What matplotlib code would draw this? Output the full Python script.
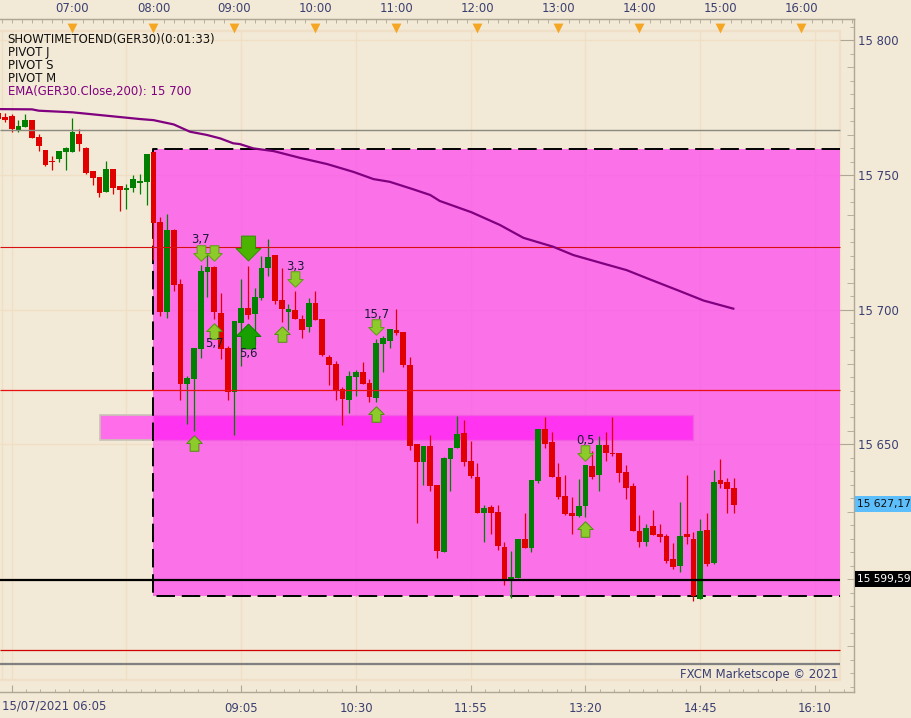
import numpy as np
import matplotlib
matplotlib.use("Agg")
import matplotlib.pyplot as plt
from matplotlib.path import Path
from matplotlib.patches import Rectangle

BASE = 15000
direction = ("RRRGGRRRRGGGRRRRGRRGGGGRRGRRGGGGRRRGGRGGGRRGRRGRRRRRGGRRGGGRRRRGRRGGGRRRGRRRGGRGG"
             "RRRRRGGRGRRRRRRGRRRRGRRGRGRRR")
high = [773.2,773.2,772.7,770.5,772.7,770.5,765.3,759.3,757.1,758.9,760.3,771.2,767.1,760.4,751.5,749.3,755.2,752.3,745.9,746.7,750.0,750.4,757.8,758.6,
        734.4,735.5,730.0,711.4,675.4,685.8,716.6,720.9,716.2,706.2,686.5,695.8,711.4,716.2,708.0,719.9,726.2,720.3,715.5,702.1,706.9,698.0,704.3,706.9,696.5,683.2,680.9,671.3,677.2,677.6,680.6,674.2,689.1,690.2,692.8,700.2,691.7,682.4,
        650.2,649.4,653.5,634.9,645.3,648.7,660.6,659.1,651.3,643.1,627.5,627.5,627.5,613.8,610.4,614.9,624.5,636.8,655.7,660.2,654.6,643.1,638.6,630.5,637.2,642.4,647.6,653.1,
        654.6,660.2,646.8,642.4,635.7,623.8,620.4,625.6,620.4,616.7,613.4,628.6,638.6,617.5,622.3,624.5,640.5,644.6,637.5,637.5]
body_top = [773.2,771.4,771.9,768.2,770.5,770.5,764.1,759.3,755.1,758.9,760.1,766.0,765.3,760.1,751.5,749.3,752.3,752.3,745.9,745.2,748.5,747.8,757.8,758.6,
        732.6,729.6,729.6,709.5,674.6,685.8,714.4,715.8,715.8,698.8,685.8,695.8,700.6,700.6,704.7,715.5,719.6,720.3,703.6,700.2,699.9,696.5,702.5,702.5,696.5,682.4,679.8,670.5,675.4,676.9,676.9,672.8,687.6,689.5,692.8,692.4,691.7,679.4,
        650.2,649.4,649.4,634.9,644.9,648.7,653.9,654.2,643.8,637.9,626.4,626.8,624.9,611.9,600.8,614.9,614.9,636.8,655.7,655.7,650.9,637.9,630.8,624.5,627.1,642.4,642.0,649.8,
        649.8,646.8,646.8,639.8,634.6,617.8,618.9,619.7,616.7,616.0,607.4,616.0,616.7,614.9,617.8,618.2,636.0,636.8,636.0,633.8]
body_bottom = [771.0,770.5,767.2,766.7,768.0,763.8,760.8,753.7,754.7,756.0,758.6,758.6,761.5,750.8,748.9,743.3,743.7,745.2,744.5,744.5,745.2,747.1,747.4,732.2,
        699.1,699.1,709.2,672.4,672.4,674.2,685.4,714.0,699.1,685.4,669.4,669.4,695.0,698.0,698.4,704.3,715.5,703.2,700.2,699.1,696.5,692.4,693.6,696.2,683.2,679.4,669.8,666.8,666.4,675.0,672.4,667.6,667.2,687.2,688.4,691.3,679.4,649.4,
        643.5,643.5,634.6,610.4,610.0,644.6,648.7,643.5,638.3,624.5,624.5,624.5,612.3,599.3,599.3,600.4,611.5,611.5,636.4,650.2,637.9,630.5,624.2,623.4,623.4,627.1,637.9,638.6,
        646.8,646.4,639.4,633.8,617.8,613.8,613.8,616.4,615.6,606.7,604.5,604.8,615.6,593.7,592.6,605.6,606.0,635.3,633.4,627.5]
low = [770.5,769.8,766.1,766.1,767.7,763.8,758.9,753.4,751.9,754.9,751.9,758.6,758.9,750.4,746.3,741.9,743.7,743.0,736.7,737.4,743.7,743.0,738.9,718.5,
        697.6,696.9,706.9,666.4,657.5,654.9,682.0,704.7,696.5,681.7,666.4,653.4,679.1,696.5,686.9,703.6,712.5,702.1,695.4,692.4,696.5,689.5,691.7,696.2,682.8,672.0,666.4,657.2,661.6,667.9,672.4,665.7,665.7,676.9,685.8,690.6,678.7,647.9,
        620.8,634.9,632.7,607.8,610.0,632.7,648.7,642.0,637.5,624.5,613.8,616.7,610.8,597.8,593.0,600.4,611.5,610.0,635.7,648.7,637.9,629.7,623.8,616.7,623.0,623.0,637.2,632.7,
        643.8,645.7,636.0,629.7,617.8,611.9,612.3,616.4,613.8,606.0,603.7,602.6,613.0,591.8,592.6,604.8,605.6,633.8,624.5,624.5]

ema_bar = [0,5,6,11,15,19,21,23,26,28.4,30.9,32.9,34.8,35.8,37.8,40.8,44.7,48.7,52.6,55.6,58,61.5,64,65.4,70.1,74.3,77.8,82.2,85.2,88.7,93.1,96.1,101,104.5,108.9]
ema_val = [15774.5,15774.4,15773.9,15773.3,15772.3,15771.3,15770.8,15770.4,15768.8,15766.1,15764.9,15763.6,15761.8,15761.5,15759.9,15758.9,15756.4,15754.1,
           15751.2,15748.5,15747.5,15744.7,15742.6,15740.4,15736.2,15731.5,15726.7,15723.4,15720.3,15717.8,15714.7,15711.7,15706.9,15703.4,15700.4]

down_small = [(30,15721.1),(32,15721.1),(44,15711.4),(56,15693.6),(87,15646.8)]
up_small = [(32,15692.1),(42,15691.0),(56,15661.3),(29,15650.5),(87,15618.6)]
down_big = [(37,15722.9)]
up_big = [(37,15690.2)]
notes = [("3,7",30,15726.0),("5,7",32,15687.3),("3,3",44,15716.2),("5,6",37,15683.6),("15,7",56,15698.4),("0,5",87,15651.3)]

hour_labels = ["07:00","08:00","09:00","10:00","11:00","12:00","13:00","14:00","15:00","16:00"]
hour_bars = [11,23,35,47,59,71,83,95,107,119]
date_labels = ["15/07/2021 06:05","09:05","10:30","11:55","13:20","14:45","16:10"]
date_bars = [2,36,53,70,87,104,121]
price_ticks = [15650,15700,15750,15800]
price_labels = ["15 650","15 700","15 750","15 800"]
legend_lines = ["SHOWTIMETOEND(GER30)(0:01:33)","PIVOT J","PIVOT S","PIVOT M"]
ema_legend = "EMA(GER30.Close,200): 15 700"

BG = "#F2E9D6"; GRID = "#F0DFC4"; AXC = "#ADA793"; NAVY = "#3A3F72"
PINK = "#FB72E8"; MAG = "#FF33F0"; RED = "#E00000"; GREEN = "#008000"

plt.rcParams["font.family"] = "DejaVu Sans"
FS = 8.35
fig = plt.figure(figsize=(9.12, 7.18), dpi=100, facecolor=BG)
ax = fig.add_axes([0, 26/718, 854/912, 673/718], facecolor=BG)
x0, x1 = 0.26, 126.78
ax.set_xlim(x0, x1)
ax.set_ylim(15558.06, 15807.95)
PR = 124.7      # right edge of inner panel
PT = 15803.5; PB = 15562.5

# grid
ax.vlines(date_bars + [0.55, 19], PB, PT, color=GRID, lw=1, zorder=1)
ax.hlines([15650, 15700, 15750, 15800], x0, PR, color=GRID, lw=1, zorder=1)
ax.plot([x0, PR, PR, x0], [PT, PT, PB, PB], color="#EEDFC6", lw=1.6, zorder=1)

# zones
ax.add_patch(Rectangle((15.07, 15651.6), 87.8, 9.3, fc="#FF6DEA", ec="#C9C3B5", lw=1.2, zorder=2))
ax.add_patch(Rectangle((23, 15593.7), PR-23, 166.0, fc=PINK, ec="none", zorder=3))
ax.add_patch(Rectangle((23, 15651.6), 79.87, 9.3, fc=MAG, ec="#F25CE2", lw=1, zorder=3.1))
ax.vlines(date_bars[1:], 15593.7, 15759.7, color="#F96DE5", lw=1, zorder=3.05)
ax.hlines([15650, 15700, 15750], 23, PR, color="#F96DE5", lw=1, zorder=3.05)
dash = dict(color="black", lw=1.4, ls=(0, (9.5, 3.5)), zorder=3.5)
ax.plot([PR, 23, 23, PR], [15759.7, 15759.7, 15593.7, 15593.7], **dash)

# candles
xs = np.arange(len(high))
h = np.array(high)+BASE; t = np.array(body_top)+BASE; b = np.array(body_bottom)+BASE; l = np.array(low)+BASE
cols = [GREEN if c == "G" else RED for c in direction]
ax.vlines(xs, l, h, colors=cols, lw=0.9, zorder=4)
ax.bar(xs, t-b, bottom=b, width=0.88, color=cols, lw=0, zorder=4.1)

# horizontal levels
ax.hlines(15766.7, x0, PR, color="#8A8A80", lw=1.0, zorder=5)
ax.hlines(15723.3, x0, PR, color="#D81010", lw=0.8, zorder=5)
ax.hlines(15670.2, x0, PR, color="#E81010", lw=0.9, zorder=5)
ax.hlines(15573.6, x0, PR, color="#D00000", lw=0.9, zorder=5)
ax.hlines(15568.5, x0, PR, color="#808080", lw=1.6, zorder=5)
ax.hlines(15599.6, x0, PR, color="black", lw=1.6, zorder=5)

# EMA
ax.plot(ema_bar, ema_val, color="#800080", lw=1.6, zorder=6)

# arrows
ua = Path([(-.28,-.5),(.28,-.5),(.28,0),(.5,0),(0,.5),(-.5,0),(-.28,0),(-.28,-.5)], closed=True)
da = Path([(-.28,.5),(.28,.5),(.28,0),(.5,0),(0,-.5),(-.5,0),(-.28,0),(-.28,.5)], closed=True)
def arrows(pts, marker, s, fc, ec):
    ax.scatter([p[0] for p in pts], [p[1] for p in pts], marker=marker, s=s, fc=fc, ec=ec, lw=0.7, zorder=7)
arrows(down_small, da, 125, "#8CCB2A", "#5E9E14")
arrows(up_small, ua, 125, "#8CCB2A", "#4F8F10")
arrows(down_big, da, 320, "#4CB400", "#2E9000")
arrows(up_big, ua, 320, "#18A000", "#0A8000")
for s, xv, yv in notes:
    ax.text(xv, yv, s, ha="center", va="center", fontsize=FS, color="#1A1A3A", zorder=8)

# axes furniture
ax.spines["left"].set_visible(False)
for sp in ("right", "top", "bottom"):
    ax.spines[sp].set_color(AXC); ax.spines[sp].set_linewidth(1)
ax.yaxis.tick_right()
ax.set_yticks(price_ticks, price_labels)
ax.set_yticks(np.arange(15560, 15806, 5), minor=True)
ax.tick_params(axis="y", which="major", direction="in", length=10, color=AXC, labelsize=FS, labelcolor=NAVY, pad=3)
ax.tick_params(axis="y", which="minor", direction="in", length=3, color=AXC)
for tick, v in zip(ax.yaxis.get_minor_ticks(), np.arange(15560, 15806, 5)):
    if v % 25 == 0:
        tick.tick2line.set_markersize(5)
ax.set_xticks(date_bars, [""]+date_labels[1:])
ax.set_xticks(np.arange(2, 126.7, 2.125), minor=True)
ax.tick_params(axis="x", which="major", direction="in", length=5, color=AXC, labelsize=FS, labelcolor=NAVY, pad=7)
ax.tick_params(axis="x", which="minor", direction="in", length=2.5, color=AXC)
ax.text(0.5, 15558.06-5.2, date_labels[0], ha="left", va="center", fontsize=FS, color=NAVY, clip_on=False)

top = ax.secondary_xaxis("top")
top.set_xticks(hour_bars, hour_labels)
top.set_xticks(np.arange(0.5, 126.7, 1.5), minor=True)
top.tick_params(axis="x", which="major", direction="in", length=0, labelsize=FS, labelcolor=NAVY, pad=3)
top.tick_params(axis="x", which="minor", direction="in", length=3, color=AXC)
top.spines["top"].set_color(AXC)
ax.scatter(hour_bars, [15804.6]*len(hour_bars), marker="v", s=50, color="#F5A623", lw=0, zorder=9)

# legend text
for i, s in enumerate(legend_lines):
    ax.text(1.4, 15800.2-4.8*i, s, ha="left", va="center", fontsize=FS, color="#101010", zorder=9)
ax.text(1.4, 15800.2-4.8*4, ema_legend, ha="left", va="center", fontsize=FS, color="#800080", zorder=9)
ax.text(124.4, 15564.7, "FXCM Marketscope © 2021", ha="right", va="center", fontsize=FS, color=NAVY, zorder=9)

# price flags
fig.text(857/912, 1-504.5/718, "15 627,17", ha="left", va="center", fontsize=7.7, color="#101010", zorder=10)
fig.add_artist(Rectangle((855/912, 1-512/718), 57/912, 16/718, fc="#5CBEFA", ec="none", transform=fig.transFigure, zorder=9))
fig.text(857/912, 1-579/718, "15 599,59", ha="left", va="center", fontsize=7.7, color="white", zorder=10)
fig.add_artist(Rectangle((855/912, 1-587/718), 57/912, 16/718, fc="black", ec="none", transform=fig.transFigure, zorder=9))

fig.savefig("out.png", dpi=100, facecolor=BG)
